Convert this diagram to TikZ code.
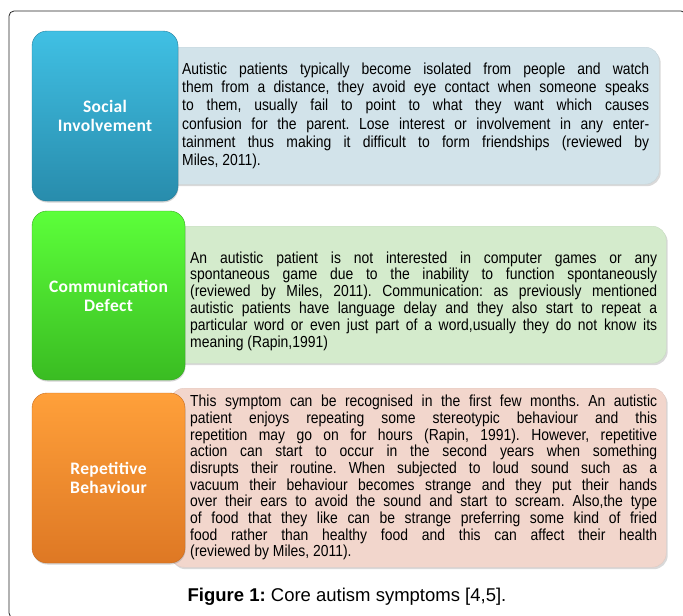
\documentclass[tikz,border=0pt]{standalone}
\usepackage{fontspec}
\setmainfont{Liberation Sans}
\newfontfamily\bodyfont[FakeStretch=0.87]{Liberation Sans}
\newfontfamily\labelfont[LetterSpace=2]{Carlito}
\usetikzlibrary{shadows}

\definecolor{socialtop}{RGB}{64,192,228}
\definecolor{socialbot}{RGB}{40,140,172}
\definecolor{socialbg}{RGB}{210,227,234}
\definecolor{commtop}{RGB}{92,255,58}
\definecolor{commbot}{RGB}{58,188,34}
\definecolor{commbg}{RGB}{212,235,204}
\definecolor{repettop}{RGB}{255,160,58}
\definecolor{repetbot}{RGB}{222,120,36}
\definecolor{repetbg}{RGB}{242,214,204}

\tolerance=9999
\hyphenpenalty=10000
\frenchspacing

\tikzset{
    labelbox/.style={rounded corners=15pt, align=center, text=white,
        font=\labelfont\bfseries\fontsize{17.5}{19}\selectfont,
        drop shadow={shadow xshift=0.5pt, shadow yshift=-1.5pt, opacity=0.35}},
    textbox/.style={rounded corners=14pt, anchor=north west, inner sep=0pt,
        drop shadow={shadow xshift=1.5pt, shadow yshift=-2pt, opacity=0.3}},
    bodytext/.style={text width=467pt, align=justify, inner sep=0pt, anchor=west}
}

\begin{document}
\begin{tikzpicture}[x=1pt, y=-1pt]
            \useasboundingbox (0,0) rectangle (683,616);

            \draw [rounded corners=5pt, line width=0.8pt, black!85]
                (9,11) rectangle (686,618);

            \node[textbox, fill=socialbg, draw=socialbg!85!gray, minimum width=499pt, minimum height=137pt] (socialbg) at (160,47) {};
            \node[textbox, fill=commbg, draw=commbg!85!gray, minimum width=496pt, minimum height=137pt] (commbg) at (170,226) {};
            \node[textbox, fill=repetbg, draw=repetbg!85!gray, minimum width=496pt, minimum height=179pt] (repetbg) at (170,388) {};

            \node[labelbox, top color=socialtop, bottom color=socialbot, draw=socialbot!90!black, minimum width=146pt, minimum height=170pt] (social) at (105,116) {Social\\Involvement};
            \node[labelbox, top color=commtop, bottom color=commbot, draw=commbot!90!black, minimum width=153pt, minimum height=169pt] (comm) at (108.5,295.5) {Communication\\Defect};
            \node[labelbox, top color=repettop, bottom color=repetbot, draw=repetbot!90!black, minimum width=153pt, minimum height=170pt] (repet) at (108.5,478) {Repetitive\\Behaviour};

            \node[bodytext, font=\bodyfont\fontsize{16}{18.3}\selectfont] (socialtxt) at (182,116) {
                Autistic patients typically become isolated from people and watch\linebreak
                them from a distance, they avoid eye contact when someone speaks\linebreak
                to them, usually fail to point to what they want which causes\linebreak
                confusion for the parent. Lose interest or involvement in any enter-\linebreak
                tainment thus making it difficult to form friendships (reviewed by\linebreak
                Miles, 2011).
            };
            \node[bodytext, font=\bodyfont\fontsize{16}{16.8}\selectfont] (commtxt) at (190,301) {
                An autistic patient is not interested in computer games or any\linebreak
                spontaneous game due to the inability to function spontaneously\linebreak
                (reviewed by Miles, 2011). Communication: as previously mentioned\linebreak
                autistic patients have language delay and they also start to repeat a\linebreak
                particular word or even just part of a word,usually they do not know its\linebreak
                meaning (Rapin,1991)
            };
            \node[bodytext, font=\bodyfont\fontsize{16}{16.7}\selectfont] (repettxt) at (190,477.7) {
                This symptom can be recognised in the first few months. An autistic\linebreak
                patient enjoys repeating some stereotypic behaviour and this\linebreak
                repetition may go on for hours (Rapin, 1991). However, repetitive\linebreak
                action can start to occur in the second years when something\linebreak
                disrupts their routine. When subjected to loud sound such as a\linebreak
                vacuum their behaviour becomes strange and they put their hands\linebreak
                over their ears to avoid the sound and start to scream. Also,the type\linebreak
                of food that they like can be strange preferring some kind of fried\linebreak
                food rather than healthy food and this can affect their health\linebreak
                (reviewed by Miles, 2011).
            };

            \node[font=\fontsize{18.5}{21}\selectfont] (caption) at (347,597) {\textbf{Figure 1:} Core autism symptoms [4,5].};

        \end{tikzpicture}
\end{document}
